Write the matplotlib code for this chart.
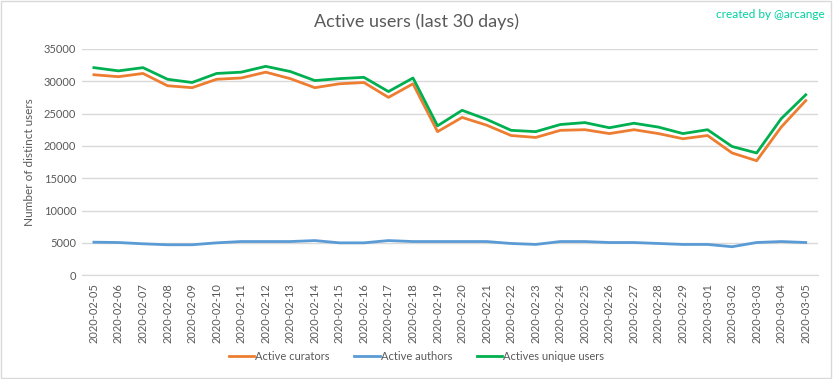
import matplotlib
matplotlib.use("Agg")
import matplotlib.pyplot as plt
from matplotlib.patches import Rectangle

dates = [
    "2020-02-05", "2020-02-06", "2020-02-07", "2020-02-08", "2020-02-09",
    "2020-02-10", "2020-02-11", "2020-02-12", "2020-02-13", "2020-02-14",
    "2020-02-15", "2020-02-16", "2020-02-17", "2020-02-18", "2020-02-19",
    "2020-02-20", "2020-02-21", "2020-02-22", "2020-02-23", "2020-02-24",
    "2020-02-25", "2020-02-26", "2020-02-27", "2020-02-28", "2020-02-29",
    "2020-03-01", "2020-03-02", "2020-03-03", "2020-03-04", "2020-03-05",
]

curators = [
    31000, 30700, 31200, 29300, 29000, 30300, 30500, 31400, 30400, 29000,
    29600, 29800, 27500, 29600, 22200, 24400, 23200, 21600, 21300, 22400,
    22500, 21900, 22500, 21900, 21100, 21600, 18900, 17700, 22900, 27000,
]

authors = [
    5100, 5050, 4850, 4700, 4700, 5000, 5200, 5200, 5200, 5350,
    5000, 5000, 5350, 5200, 5200, 5200, 5200, 4900, 4750, 5200,
    5200, 5050, 5050, 4900, 4750, 4750, 4400, 5050, 5200, 5050,
]

unique_users = [
    32100, 31600, 32100, 30300, 29800, 31200, 31400, 32300, 31500, 30100,
    30400, 30600, 28400, 30500, 23100, 25500, 24100, 22400, 22200, 23300,
    23600, 22800, 23500, 22900, 21900, 22500, 19900, 18900, 24200, 27900,
]

y_ticks = [0, 5000, 10000, 15000, 20000, 25000, 30000, 35000]

TEXT = "#595959"
GRID = "#D9D9D9"

plt.rcParams["font.family"] = ["Lato", "DejaVu Sans"]

fig = plt.figure(figsize=(8.33, 3.79), dpi=100)
fig.patch.set_facecolor("white")
fig.patches.append(Rectangle((0.001, 0.002), 0.997, 0.995, transform=fig.transFigure,
                             fill=False, edgecolor=GRID, linewidth=1))

ax = fig.add_axes([0.098, 0.274, 0.884, 0.597])
x = list(range(len(dates)))
ax.plot(x, curators, color="#ED7D31", linewidth=2, label="Active curators")
ax.plot(x, authors, color="#5B9BD5", linewidth=2, label="Active authors")
ax.plot(x, unique_users, color="#00B050", linewidth=2, label="Actives unique users")

ax.set_xlim(-0.5, len(dates) - 0.5)
ax.set_ylim(0, 35000)
ax.set_yticks(y_ticks)
ax.set_yticklabels([str(v) for v in y_ticks])
ax.set_xticks(x)
ax.set_xticklabels(dates, rotation=90)
ax.tick_params(axis="both", colors=TEXT, labelsize=8, length=0)
ax.tick_params(axis="x", pad=6)
ax.tick_params(axis="y", pad=4)
ax.grid(axis="y", color=GRID, linewidth=1)
ax.set_axisbelow(True)
for side in ["top", "right", "left"]:
    ax.spines[side].set_visible(False)
ax.spines["bottom"].set_color(GRID)

ax.set_ylabel("Number of distinct users", color=TEXT, fontsize=8.5, labelpad=6)

fig.text(0.5, 0.942, "Active users (last 30 days)", ha="center", va="center",
         fontsize=13, color=TEXT)
fig.text(0.99, 0.962, "created by @arcange", ha="right", va="center",
         fontsize=8.5, color="#00D2A0")

fig.legend(loc="center", bbox_to_anchor=(0.5, 0.06), ncol=3, frameon=False,
           fontsize=8, labelcolor=TEXT, handlelength=2.3, handletextpad=0.1,
           columnspacing=2.2)

fig.savefig("out.png", dpi=100)
